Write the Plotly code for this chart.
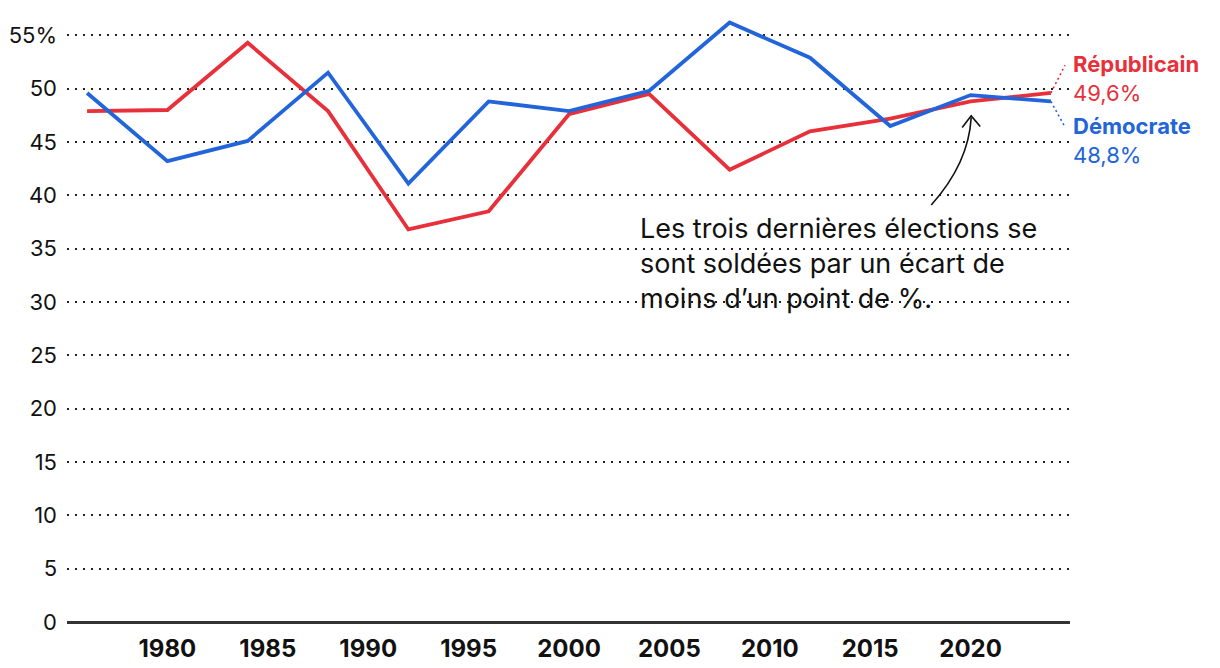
import plotly.graph_objects as go

years = [1976, 1980, 1984, 1988, 1992, 1996, 2000, 2004, 2008, 2012, 2016, 2020, 2024]
republicain = [47.9, 48.0, 54.3, 47.9, 36.8, 38.5, 47.6, 49.5, 42.4, 46.0, 47.2, 48.8, 49.6]
democrate = [49.6, 43.2, 45.1, 51.5, 41.1, 48.8, 47.9, 49.8, 56.2, 52.9, 46.5, 49.4, 48.8]

y_ticks = [0, 5, 10, 15, 20, 25, 30, 35, 40, 45, 50, 55]
y_labels = ["0", "5", "10", "15", "20", "25", "30", "35", "40", "45", "50", "55%"]
x_ticks = [1980, 1985, 1990, 1995, 2000, 2005, 2010, 2015, 2020]

RED = "#E8303B"
BLUE = "#2264D9"
FONT = "Inter"

fig = go.Figure()
fig.add_trace(go.Scatter(x=years, y=republicain, mode="lines",
                         line=dict(color=RED, width=3.8), name="Républicain"))
fig.add_trace(go.Scatter(x=years, y=democrate, mode="lines",
                         line=dict(color=BLUE, width=3.8), name="Démocrate"))

# dotted connectors to end labels
fig.add_shape(type="line", xref="x", yref="y", x0=years[-1], y0=republicain[-1],
              x1=2024.7, y1=52.2, line=dict(color=RED, width=1.6, dash="2px,3px"))
fig.add_shape(type="line", xref="x", yref="y", x0=years[-1], y0=democrate[-1],
              x1=2024.7, y1=46.4, line=dict(color=BLUE, width=1.6, dash="2px,3px"))

# end labels
rep_txt = f"{republicain[-1]:.1f}%".replace(".", ",")
dem_txt = f"{democrate[-1]:.1f}%".replace(".", ",")
fig.add_annotation(x=1.001, xref="paper", y=50.95, yref="y", xanchor="left", yanchor="middle",
                   text=f"<b>Républicain</b><br>{rep_txt}", showarrow=False, align="left",
                   font=dict(family=FONT, size=22, color=RED))
fig.add_annotation(x=1.001, xref="paper", y=45.15, yref="y", xanchor="left", yanchor="middle",
                   text=f"<b>Démocrate</b><br>{dem_txt}", showarrow=False, align="left",
                   font=dict(family=FONT, size=22, color=BLUE))

# comment text
fig.add_annotation(x=2003.45, xref="x", y=38.65, yref="y", xanchor="left", yanchor="top",
                   text="Les trois dernières élections se<br>sont soldées par un écart de<br>moins d’un point de %.",
                   showarrow=False, align="left",
                   font=dict(family=FONT, size=27, color="#111"))

# curved arrow
fig.add_shape(type="path", xref="x", yref="y",
              path="M 2018.04 39.1 Q 2019.9 43.0 2020.03 47.3",
              line=dict(color="#111", width=1.6))
fig.add_shape(type="path", xref="x", yref="y",
              path="M 2019.58 46.35 L 2020.03 47.45 L 2020.48 46.45",
              line=dict(color="#111", width=1.6))

fig.update_layout(
    width=1220, height=668,
    margin=dict(l=59, r=158, t=6, b=54),
    plot_bgcolor="white", paper_bgcolor="white",
    showlegend=False,
    font=dict(family=FONT, color="#111"),
)
fig.update_xaxes(range=[1975.0, 2024.95], tickvals=x_ticks,
                 ticktext=[str(t) for t in x_ticks],
                 tickfont=dict(family=FONT, size=24, color="#111", weight="bold"),
                 showgrid=False, zeroline=False, showline=False, ticks="",
                 ticklabelstandoff=10, automargin=False)
fig.update_yaxes(range=[0, 57], tickvals=y_ticks, ticktext=y_labels,
                 tickfont=dict(family=FONT, size=22, color="#111"),
                 showgrid=True, gridcolor="#222", gridwidth=1.6, griddash="1.6px,6.4px",
                 zeroline=True, zerolinecolor="#333", zerolinewidth=2.5,
                 ticks="", ticklabelstandoff=9, automargin=False)

fig.write_html("out.html")
